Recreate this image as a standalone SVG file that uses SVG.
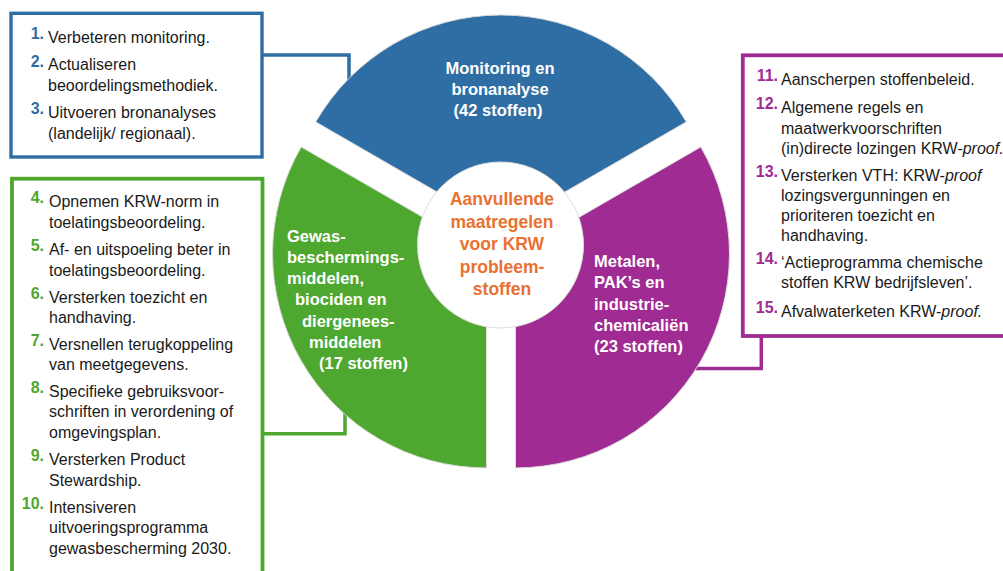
<svg xmlns="http://www.w3.org/2000/svg" width="1003" height="571" viewBox="0 0 1003 571">
  <style>
    text { font-family: "Liberation Sans", Arial, sans-serif; }
    .item { font-size: 16px; fill: #1a1a1a; }
    .num { font-size: 16px; font-weight: bold; text-anchor: end; }
    .nb { fill: #2F6EA4; }
    .ng { fill: #4EA72E; }
    .np { fill: #A02B93; }
    .lbl { font-size: 16.5px; font-weight: bold; fill: #ffffff; }
    .ctr { font-size: 17.5px; font-weight: bold; fill: #E97132; text-anchor: middle; }
    .sector { stroke: #dcdcdc; stroke-width: 1; }
    .box { fill: #ffffff; }
    .conn { fill: none; stroke-width: 3.5; }
    .it { font-style: italic; }
  </style>
  <rect width="1003" height="571" fill="#ffffff"/>

  <g id="connectors">
    <path class="conn" d="M 262 55 H 349 V 82" stroke="#2F6EA4"/>
    <path class="conn" d="M 262 433.7 H 345 V 412" stroke="#4EA72E"/>
    <path class="conn" d="M 761.3 336 V 368.5 H 694" stroke="#A02B93"/>
  </g>

  <g id="sector-monitoring">
    <path class="sector" fill="#2F6EA4" d="M 501 228.9 L 315.7 121.9 A 214 214 0 0 1 686.3 121.9 Z"/>
    <text class="lbl" text-anchor="middle" x="500" y="74">Monitoring en</text>
    <text class="lbl" text-anchor="middle" x="500" y="95">bronanalyse</text>
    <text class="lbl" text-anchor="middle" x="498" y="116">(42 stoffen)</text>
  </g>

  <g id="sector-gewas">
    <path class="sector" fill="#4EA72E" d="M 486.5 253.95 L 301.2 146.95 A 214 214 0 0 0 486.5 467.95 Z"/>
    <text class="lbl" x="287" y="242">Gewas-</text>
    <text class="lbl" x="287" y="263">beschermings-</text>
    <text class="lbl" x="287" y="284">middelen,</text>
    <text class="lbl" x="295" y="305">biociden en</text>
    <text class="lbl" x="302" y="327">diergenees-</text>
    <text class="lbl" x="309" y="348">middelen</text>
    <text class="lbl" x="319" y="369">(17 stoffen)</text>
  </g>

  <g id="sector-metalen">
    <path class="sector" fill="#A02B93" d="M 515.5 253.95 L 515.5 467.95 A 214 214 0 0 0 700.8 146.95 Z"/>
    <text class="lbl" x="594" y="267">Metalen,</text>
    <text class="lbl" x="594" y="288">PAK’s en</text>
    <text class="lbl" x="594" y="310">industrie-</text>
    <text class="lbl" x="594" y="331">chemicaliën</text>
    <text class="lbl" x="594" y="352">(23 stoffen)</text>
  </g>

  <g id="center">
    <circle cx="500.5" cy="245" r="83" fill="#ffffff" stroke="#dcdcdc" stroke-width="1"/>
    <text class="ctr" x="502" y="205">Aanvullende</text>
    <text class="ctr" x="502" y="227.5">maatregelen</text>
    <text class="ctr" x="502" y="250">voor KRW</text>
    <text class="ctr" x="502" y="272.5">probleem-</text>
    <text class="ctr" x="502" y="295">stoffen</text>
  </g>

  <g id="box-monitoring">
    <rect class="box" x="11" y="13.3" width="251" height="143.7" stroke="#2F6EA4" stroke-width="3.4"/>
    <text class="num nb" x="44" y="39">1.</text>
    <text class="item" x="48" y="43">Verbeteren monitoring.</text>
    <text class="num nb" x="44" y="67">2.</text>
    <text class="item" x="48" y="70">Actualiseren</text>
    <text class="item" x="48" y="91">beoordelingsmethodiek.</text>
    <text class="num nb" x="44" y="114">3.</text>
    <text class="item" x="48" y="118">Uitvoeren bronanalyses</text>
    <text class="item" x="48" y="139">(landelijk/ regionaal).</text>
  </g>

  <g id="box-gewas">
    <rect class="box" x="12" y="178.7" width="250.5" height="400" stroke="#4EA72E" stroke-width="3.8"/>
    <text class="num ng" x="44" y="203">4.</text>
    <text class="item" x="49" y="207">Opnemen KRW-norm in</text>
    <text class="item" x="49" y="228">toelatingsbeoordeling.</text>
    <text class="num ng" x="44" y="251">5.</text>
    <text class="item" x="49" y="255">Af- en uitspoeling beter in</text>
    <text class="item" x="49" y="275.5">toelatingsbeoordeling.</text>
    <text class="num ng" x="44" y="299">6.</text>
    <text class="item" x="49" y="303">Versterken toezicht en</text>
    <text class="item" x="49" y="323">handhaving.</text>
    <text class="num ng" x="44" y="346">7.</text>
    <text class="item" x="49" y="350">Versnellen terugkoppeling</text>
    <text class="item" x="49" y="370">van meetgegevens.</text>
    <text class="num ng" x="44" y="393">8.</text>
    <text class="item" x="49" y="397">Specifieke gebruiksvoor-</text>
    <text class="item" x="49" y="417">schriften in verordening of</text>
    <text class="item" x="49" y="437.5">omgevingsplan.</text>
    <text class="num ng" x="44" y="461">9.</text>
    <text class="item" x="49" y="465">Versterken Product</text>
    <text class="item" x="49" y="485.5">Stewardship.</text>
    <text class="num ng" x="44" y="509">10.</text>
    <text class="item" x="49" y="513">Intensiveren</text>
    <text class="item" x="49" y="533">uitvoeringsprogramma</text>
    <text class="item" x="49" y="553.5">gewasbescherming 2030.</text>
  </g>

  <g id="box-metalen">
    <rect class="box" x="742.8" y="55.3" width="270" height="280.7" stroke="#A02B93" stroke-width="3.8"/>
    <text class="num np" x="778" y="81">11.</text>
    <text class="item" x="781" y="85">Aanscherpen stoffenbeleid.</text>
    <text class="num np" x="778" y="109">12.</text>
    <text class="item" x="781" y="113">Algemene regels en</text>
    <text class="item" x="781" y="134">maatwerkvoorschriften</text>
    <text class="item" x="781" y="154">(in)directe lozingen KRW-<tspan class="it">proof.</tspan></text>
    <text class="num np" x="778" y="177">13.</text>
    <text class="item" x="781" y="181">Versterken VTH: KRW-<tspan class="it">proof</tspan></text>
    <text class="item" x="781" y="201">lozingsvergunningen en</text>
    <text class="item" x="781" y="221">prioriteren toezicht en</text>
    <text class="item" x="781" y="241">handhaving.</text>
    <text class="num np" x="778" y="264">14.</text>
    <text class="item" x="781" y="268">‘Actieprogramma chemische</text>
    <text class="item" x="781" y="288">stoffen KRW bedrijfsleven’.</text>
    <text class="num np" x="778" y="313">15.</text>
    <text class="item" x="781" y="317">Afvalwaterketen KRW-<tspan class="it">proof.</tspan></text>
  </g>
</svg>
